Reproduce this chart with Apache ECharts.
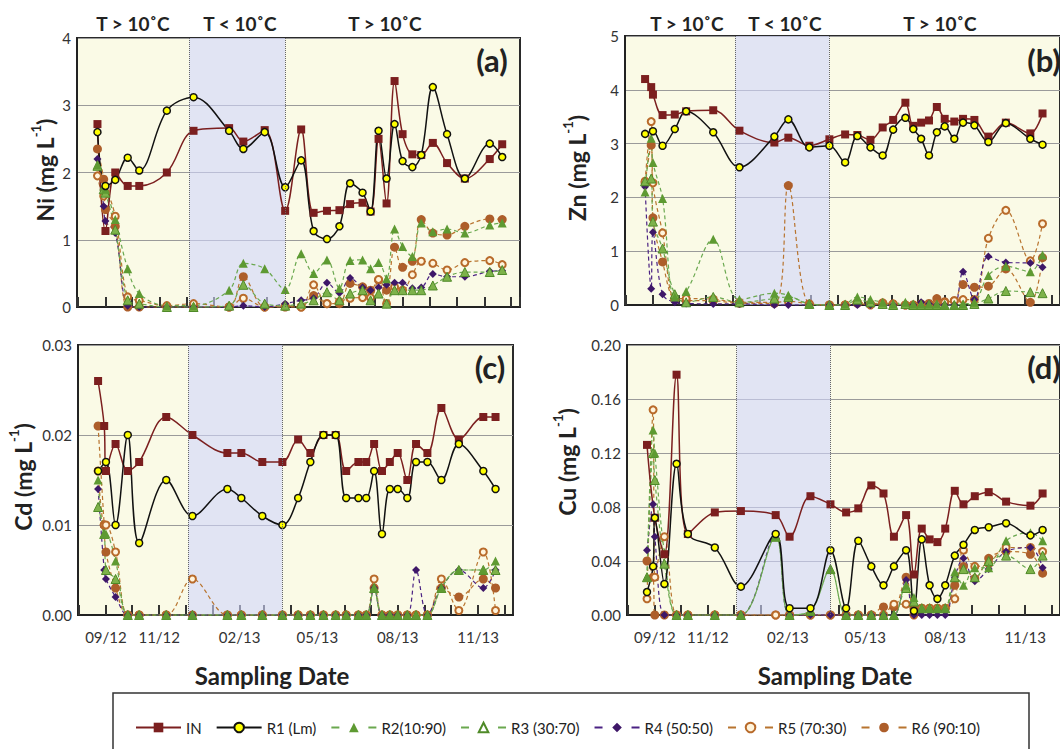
<!DOCTYPE html>
<html><head><meta charset="utf-8">
<script src="https://cdn.jsdelivr.net/npm/echarts@6/dist/echarts.min.js"></script>
<style>html,body{margin:0;padding:0;background:#fff}#c{width:1060px;height:749px}</style>
</head><body><div id="c"></div>
<script>
// ---------- data ----------
const DATES = ['2012-08-23','2012-08-30','2012-09-01','2012-09-12','2012-09-26','2012-10-09','2012-11-09','2012-12-09','2013-01-18','2013-02-03','2013-02-27','2013-03-22','2013-04-09','2013-04-23','2013-05-08','2013-05-22','2013-06-03','2013-06-17','2013-06-26','2013-07-05','2013-07-14','2013-07-23','2013-08-01','2013-08-12','2013-08-22','2013-09-04','2013-09-20','2013-10-10','2013-11-07','2013-11-21'];
const WINTER = ['2012-12-04','2013-03-22'];
const X_MIN = '2012-07-31';
const X_MAX = '2013-12-11';
const X_LABELS = ['09/12','11/12','02/13','05/13','08/13','11/13'];
const SERIES_NAMES = ['IN','R1 (Lm)','R2(10:90)','R3 (30:70)','R4 (50:50)','R5 (70:30)','R6 (90:10)'];

// Ni (a)
const NI_IN = [2.72,null,1.13,2.00,1.80,1.80,2.00,2.62,2.66,2.46,2.63,1.43,2.64,1.40,1.43,1.44,1.53,1.55,1.42,2.50,1.54,3.36,2.57,2.27,2.26,2.44,2.14,1.91,2.20,2.42];
const NI_R1 = [2.60,null,1.80,1.89,2.22,2.03,2.92,3.12,2.62,2.35,2.60,1.78,2.18,1.13,1.01,1.20,1.84,1.70,1.42,2.62,1.91,2.72,2.17,2.08,2.26,3.27,2.57,1.91,2.43,2.23];
const NI_R2 = [2.12,1.80,1.75,1.30,0.57,0.20,0.02,0.02,0.25,0.65,0.57,0.26,0.79,0.50,0.70,0.28,0.69,0.70,0.57,0.66,0.42,1.16,0.90,0.75,1.25,1.12,1.16,1.10,1.22,1.25];
const NI_R3 = [2.10,1.75,1.70,1.15,0.10,0.05,0.00,0.00,0.02,0.33,0.05,0.02,0.05,0.10,0.22,0.10,0.20,0.25,0.10,0.20,0.05,0.25,0.25,0.25,0.25,0.32,0.45,0.52,0.52,0.55];
const NI_R4 = [2.20,1.50,1.28,1.10,0.02,0.00,0.00,0.00,0.00,0.02,0.00,0.05,0.10,0.13,0.36,0.21,0.43,0.29,0.25,0.29,0.33,0.36,0.36,0.28,0.29,0.49,0.45,0.45,0.53,0.54];
const NI_R5 = [1.95,1.65,1.70,1.35,0.15,0.10,0.02,0.05,0.00,0.13,0.00,0.02,0.00,0.33,0.05,0.08,0.13,0.14,0.14,0.41,0.05,0.30,0.25,0.48,0.68,0.65,0.55,0.66,0.69,0.63];
const NI_R6 = [2.35,1.90,1.45,1.20,0.00,0.00,0.00,0.00,0.00,0.45,0.00,0.00,0.00,0.17,0.05,0.05,0.35,0.30,0.25,0.40,0.25,0.89,0.59,0.68,1.30,1.10,1.07,1.20,1.31,1.30];

// Zn (b)
const ZN_IN = [4.20,4.05,3.91,3.53,3.54,3.60,3.62,3.24,3.02,3.11,2.96,3.08,3.17,3.16,3.07,3.30,3.44,3.76,3.33,3.39,3.43,3.68,3.46,3.41,3.46,3.44,3.13,3.39,3.19,3.56];
const ZN_R1 = [3.18,null,3.23,2.96,3.27,3.60,3.21,2.56,3.13,3.45,2.93,2.96,2.65,3.14,2.93,2.78,3.26,3.48,3.27,3.09,2.78,3.21,3.32,3.09,3.39,3.34,3.03,3.38,3.09,2.98];
const ZN_R2 = [2.10,3.10,2.65,1.98,0.15,0.25,1.22,0.10,0.22,0.18,0.02,0.00,0.02,0.15,0.10,0.05,0.02,0.05,0.02,0.02,0.02,0.02,0.00,0.00,0.02,0.05,0.55,0.72,0.62,0.93];
const ZN_R3 = [2.30,2.35,1.55,1.05,0.20,0.05,0.15,0.05,0.12,0.15,0.02,0.00,0.00,0.10,0.05,0.02,0.00,0.02,0.00,0.00,0.00,0.00,0.00,0.00,0.00,0.02,0.12,0.26,0.24,0.22];
const ZN_R4 = [2.20,0.30,1.35,0.20,0.05,0.03,0.02,0.02,0.00,0.00,0.00,0.00,0.00,0.00,0.00,0.00,0.00,0.00,0.00,0.05,0.02,0.00,0.00,0.00,0.62,0.10,0.90,0.79,0.78,0.70];
const ZN_R5 = [2.30,3.41,2.27,1.34,0.12,0.12,0.11,0.05,0.05,0.07,0.02,0.00,0.00,0.03,0.00,0.03,0.02,0.00,0.00,0.00,0.00,0.02,0.05,0.08,0.10,0.10,1.24,1.76,0.82,1.51];
const ZN_R6 = [2.27,2.97,1.62,0.80,0.10,0.08,0.08,0.03,0.03,2.22,0.02,0.00,0.00,0.05,0.02,0.04,0.02,0.00,0.00,0.02,0.03,0.12,0.06,0.08,0.38,0.33,0.35,0.67,0.05,0.88];

// Cd (c)
const CD_IN = [0.026,0.021,0.016,0.019,0.016,0.017,0.022,0.020,0.018,0.018,0.017,0.017,0.0195,0.018,0.020,0.020,0.016,0.017,0.017,0.019,0.016,0.017,0.018,0.015,0.019,0.018,0.023,0.0195,0.022,0.022];
const CD_R1 = [0.016,null,0.017,0.010,0.020,0.008,0.015,0.011,0.014,0.013,0.011,0.010,0.013,0.017,0.020,0.020,0.013,0.013,0.013,0.016,0.009,0.014,0.014,0.013,0.017,0.017,0.015,0.019,0.016,0.014];
const CD_R2 = [0.015,0.009,0.009,0.006,0,0,0,0,0,0,0,0,0,0,0,0,0,0,0,0.003,0,0,0,0,0,0,0.003,0.005,0.005,0.006];
const CD_R3 = [0.012,0.009,0.005,0.004,0,0,0,0,0,0,0,0,0,0,0,0,0,0,0,0.003,0,0,0,0,0,0,0.003,0.005,0.005,0.005];
const CD_R4 = [0.014,0.005,0.004,0.002,0,0,0,0,0,0,0,0,0,0,0,0,0,0,0,0.003,0,0,0,0,0.005,0,0.003,0.005,0.003,0.005];
const CD_R5 = [0.016,0.010,0.010,0.007,0,0,0,0.004,0,0,0,0,0,0,0,0,0,0,0,0.004,0,0,0,0,0,0,0.004,0.0005,0.007,0.0005];
const CD_R6 = [0.021,0.010,0.007,0.003,0,0,0,0,0,0,0,0,0,0,0,0,0,0,0,0.003,0,0,0,0,0,0,0.003,0.002,0.004,0.003];

// Cu (d)
const CU_IN = [0.126,null,0.072,0.045,0.178,0.060,0.076,0.077,0.074,0.058,0.088,0.082,0.076,0.079,0.096,0.090,0.058,0.074,0.030,0.064,0.056,0.054,0.064,0.092,0.082,0.088,0.091,0.084,0.081,0.090];
const CU_R1 = [0.017,0.036,0.072,0.023,0.112,0.060,0.050,0.021,0.060,0.005,0.005,0.048,0.005,0.055,0.036,0.022,0.036,0.048,0.003,0.056,0.022,0.012,0.022,0.044,0.052,0.063,0.065,0.068,0.059,0.063];
const CU_R2 = [0.028,0.137,0.120,0.046,0,0,0,0,0.058,0,0.003,0.034,0,0,0,0,0,0.022,0.013,0.005,0.005,0.005,0.005,0.032,0.022,0.035,0.035,0.055,0.061,0.055];
const CU_R3 = [0.028,0.120,0.100,0.038,0,0,0,0,0.058,0,0.003,0.034,0,0,0,0,0,0.020,0.010,0.005,0.005,0.005,0.005,0.028,0.034,0.028,0.040,0.044,0.034,0.044];
const CU_R4 = [0.048,0.082,0.058,0,0,0,0,0,0.060,0,0,0,0,0,0,0,0,0.026,0,0,0,0,0,0.028,0.042,0.025,0.034,0.047,0.050,0.035];
const CU_R5 = [0.012,0.152,0.028,0.058,0,0,0,0,0,0,0,0,0,0,0,0,0.008,0.008,0,0.005,0.005,0.005,0.005,0.012,0.048,0.036,0.038,0.050,0.050,0.047];
const CU_R6 = [0.040,0.028,0,0,0,0,0,0,0,0,0,0,0,0,0,0.006,0.006,0.028,0.005,0.005,0.005,0.005,0.005,0.022,0.036,0.027,0.042,0.047,0.045,0.031];

const PANEL_DATA = [
  [NI_IN, NI_R1, NI_R2, NI_R3, NI_R4, NI_R5, NI_R6],
  [ZN_IN, ZN_R1, ZN_R2, ZN_R3, ZN_R4, ZN_R5, ZN_R6],
  [CD_IN, CD_R1, CD_R2, CD_R3, CD_R4, CD_R5, CD_R6],
  [CU_IN, CU_R1, CU_R2, CU_R3, CU_R4, CU_R5, CU_R6]
];

// ---------- layout & style ----------
const FONT = 'Lato, "Open Sans", sans-serif';
const DAY = 86400000;
const PANELS = [
  {grid:{left:77, top:38, width:443, height:269}, max:4, interval:1, dec:0, labels:false},
  {grid:{left:625, top:36, width:442, height:269}, max:5, interval:1, dec:0, labels:false},
  {grid:{left:78, top:345, width:435, height:270}, max:0.03, interval:0.01, dec:2, labels:true},
  {grid:{left:627, top:345, width:440, height:270}, max:0.2, interval:0.04, dec:2, labels:true}
];
const STYLES = [
  {symbol:'rect', size:8, fill:'#7B1F1F', border:'#7B1F1F', bw:0, line:'#7B1F1F', lw:1.5, dashed:false},
  {symbol:'circle', size:7, fill:'#FFFF00', border:'#111111', bw:1.5, line:'#111111', lw:1.5, dashed:false},
  {symbol:'triangle', size:9, fill:'#5E9A32', border:'#5E9A32', bw:0, line:'#6AA84F', lw:1.2, dashed:true},
  {symbol:'triangle', size:9, fill:'#7DB24A', border:'#4F8A28', bw:1, line:'#6AA84F', lw:1.2, dashed:true},
  {symbol:'diamond', size:8, fill:'#3E1768', border:'#3E1768', bw:0, line:'#4B2283', lw:1.2, dashed:true},
  {symbol:'circle', size:7, fill:'#FFF4DC', border:'#B86A2A', bw:2, line:'#B8742F', lw:1.2, dashed:true},
  {symbol:'circle', size:9, fill:'#AD5E2A', border:'#AD5E2A', bw:0, line:'#B8742F', lw:1.2, dashed:true}
];
const DRAW_ORDER = [6,5,4,3,2,0,1];

function fmtX(v){
  const d = new Date(v);
  const s = String(d.getMonth()+1).padStart(2,'0') + '/' + String(d.getFullYear()%100).padStart(2,'0');
  return (d.getDate() === 1 && X_LABELS.indexOf(s) >= 0) ? s : '';
}

const grids = [], xAxes = [], yAxes = [], series = [];
PANELS.forEach((p, i) => {
  grids.push(Object.assign({show:true, backgroundColor:'#FAFAE6', borderColor:'#2a2a2a', borderWidth:2, containLabel:false}, p.grid));
  xAxes.push({
    type:'time', gridIndex:i, min:X_MIN, max:X_MAX,
    minInterval:28*DAY, maxInterval:31*DAY,
    axisLine:{show:true, onZero:false, lineStyle:{color:'#222', width:2}},
    axisTick:{show:true, inside:true, length:10, lineStyle:{color:'#333', width:2}},
    axisLabel:{show:p.labels, margin:14, fontSize:15, color:'#333', fontFamily:FONT, formatter:fmtX, hideOverlap:false},
    splitLine:{show:false}
  });
  yAxes.push({
    type:'value', gridIndex:i, min:0, max:p.max, interval:p.interval,
    axisLine:{show:true, lineStyle:{color:'#222', width:2}},
    axisTick:{show:false},
    axisLabel:{fontSize:15, color:'#333', margin:6, fontFamily:FONT, formatter:v => v.toFixed(p.dec)},
    splitLine:{show:true, lineStyle:{color:'#9a9a9a', width:1}}
  });
  series.push({
    type:'line', xAxisIndex:i, yAxisIndex:i, data:[], silent:true, z:1,
    markArea:{silent:true, itemStyle:{color:'rgba(208,213,252,0.6)'}, data:[[{xAxis:WINTER[0]},{xAxis:WINTER[1]}]]},
    markLine:{silent:true, symbol:['none','none'], label:{show:false}, lineStyle:{type:'dotted', color:'#666', width:1}, data:[{xAxis:WINTER[0]},{xAxis:WINTER[1]}], animation:false}
  });
  DRAW_ORDER.forEach(k => {
    const st = STYLES[k];
    const vals = PANEL_DATA[i][k];
    series.push({
      name:SERIES_NAMES[k], type:'line', xAxisIndex:i, yAxisIndex:i,
      data:DATES.map((d, j) => [d, vals[j]]),
      smooth:0.35, connectNulls:true, clip:false,
      symbol:st.symbol, symbolSize:st.size, showAllSymbol:true,
      itemStyle:{color:st.fill, borderColor:st.border, borderWidth:st.bw},
      lineStyle:{color:st.line, width:st.lw, type:st.dashed ? [4,3] : 'solid'},
      emphasis:{disabled:true}, z:2
    });
  });
});

function txt(x, y, text, size, extra){
  return Object.assign({type:'text', x:x, y:y, silent:true, style:{text:text, fontSize:size, fontWeight:'bold', fontFamily:FONT, fill:'#222', align:'center', verticalAlign:'middle'}}, extra || {});
}
function ytitle(x, y, el){
  return {type:'text', x:x, y:y, rotation:Math.PI/2, silent:true, style:{
    text:'{b|' + el + ' (mg L}{s|-1}{b|)}', align:'center', verticalAlign:'middle', fill:'#222',
    rich:{b:{fontSize:23, fontWeight:'bold', fontFamily:FONT, fill:'#222', lineHeight:32},
          s:{fontSize:13, fontWeight:'bold', fontFamily:FONT, fill:'#222', verticalAlign:'top', lineHeight:14}}
  }};
}

const graphic = [
  txt(133, 23, 'T > 10˚C', 19), txt(240, 23, 'T < 10˚C', 19), txt(385, 23, 'T > 10˚C', 19),
  txt(687, 23, 'T > 10˚C', 19), txt(785, 23, 'T < 10˚C', 19), txt(940, 23, 'T > 10˚C', 19),
  txt(492, 60, '(a)', 31), txt(1044, 60, '(b)', 31), txt(490, 367, '(c)', 31), txt(1044, 367, '(d)', 31),
  ytitle(45, 170, 'Ni'), ytitle(577, 168, 'Zn'), ytitle(23, 477, 'Cd'), ytitle(567, 462, 'Cu'),
  txt(272, 675, 'Sampling Date', 24), txt(835, 675, 'Sampling Date', 24),
  {type:'rect', silent:true, shape:{x:113, y:693, width:916, height:80}, style:{fill:'none', stroke:'#333', lineWidth:1.5}}
];

const legendData = SERIES_NAMES.map((n, k) => {
  const o = {name:n};
  if (STYLES[k].dashed) o.lineStyle = {type:[8,29]};
  if (k === 3) o.itemStyle = {color:'#ffffff', borderColor:'#4F8A28', borderWidth:2};
  return o;
});

const chart = echarts.init(document.getElementById('c'), null, {renderer:'svg'});
chart.setOption({
  animation:false,
  textStyle:{fontFamily:FONT},
  grid:grids, xAxis:xAxes, yAxis:yAxes, series:series, graphic:graphic,
  legend:{left:130, top:715, itemWidth:45, itemHeight:12, itemGap:14, selectedMode:false,
    textStyle:{fontSize:15, color:'#222', fontFamily:FONT}, data:legendData}
});
</script></body></html>
